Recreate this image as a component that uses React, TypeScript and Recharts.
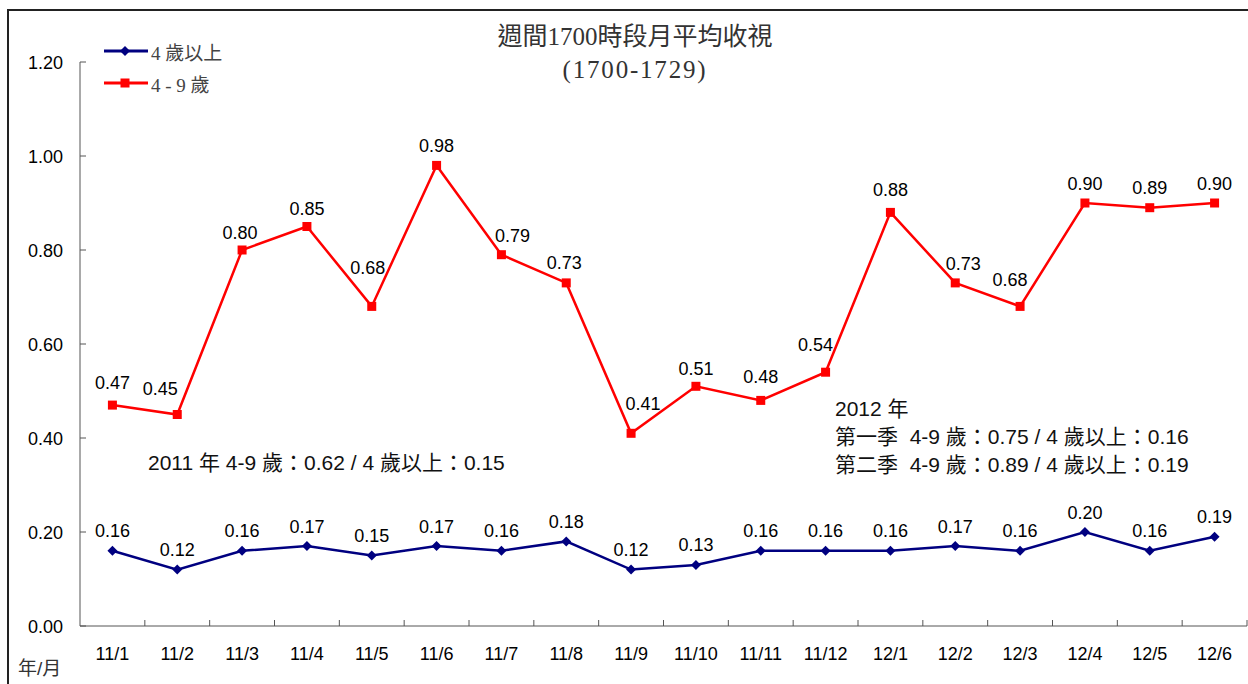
import { LineChart, Line, XAxis, YAxis, LabelList } from "recharts";

const months = ["11/1", "11/2", "11/3", "11/4", "11/5", "11/6", "11/7", "11/8", "11/9", "11/10", "11/11", "11/12", "12/1", "12/2", "12/3", "12/4", "12/5", "12/6"];
const kids = [0.47, 0.45, 0.8, 0.85, 0.68, 0.98, 0.79, 0.73, 0.41, 0.51, 0.48, 0.54, 0.88, 0.73, 0.68, 0.9, 0.89, 0.9];
const allAges = [0.16, 0.12, 0.16, 0.17, 0.15, 0.17, 0.16, 0.18, 0.12, 0.13, 0.16, 0.16, 0.16, 0.17, 0.16, 0.2, 0.16, 0.19];
const yTicks = [0, 0.2, 0.4, 0.6, 0.8, 1.0, 1.2];

// hand-placed label nudges (px), like the original chart moved them off the line
const kidsLabelDx = [0, -17, -2, 0, -4, 0, 11, -2, 12, 0, 0, -10, 0, 8, -10, 0, 0, 0];
const kidsLabelRise = [23, 26, 18, 18, 39, 20, 19, 20, 30, 18, 24, 28, 23, 19, 27, 20, 20, 20];

const W = 1248;
const H = 684;
const xAxisHeight = 30;
const margin = { top: 62, right: 1, bottom: 58 - xAxisHeight, left: 0 };
const yAxisWidth = 80;
const halfBand = (W - margin.left - margin.right - yAxisWidth) / months.length / 2;

const data = months.map((m, i) => ({ month: m, kids: kids[i], allAges: allAges[i] }));

const NAVY = "#000080";
const RED = "#ff0000";
const AXIS = "#555";
const sans = "'Liberation Sans', Arial, 'Noto Sans CJK TC', sans-serif";
const serif = "'Liberation Serif', 'Times New Roman', 'Noto Sans CJK TC', serif";

function XTick(props: any) {
  const { x, y, payload } = props;
  return (
    <g>
      <line x1={x + halfBand} x2={x + halfBand} y1={y - 6} y2={y} stroke={AXIS} strokeWidth={1} />
      <text x={x} y={y + 34} textAnchor="middle" fontSize={18} fontFamily={sans} fill="#000">
        {payload.value}
      </text>
    </g>
  );
}

function YTick(props: any) {
  const { x, y, payload } = props;
  return (
    <g>
      <line x1={x} x2={x + 6} y1={y} y2={y} stroke={AXIS} strokeWidth={1} />
      <text x={x - 17} y={y + 6.5} textAnchor="end" fontSize={18} fontFamily={sans} fill="#000">
        {payload.value.toFixed(2)}
      </text>
    </g>
  );
}

function Diamond(props: any) {
  const { cx, cy } = props;
  if (cx == null || cy == null) return null;
  return <path d={`M${cx},${cy - 5} L${cx + 5},${cy} L${cx},${cy + 5} L${cx - 5},${cy} Z`} fill={NAVY} />;
}

function Square(props: any) {
  const { cx, cy } = props;
  if (cx == null || cy == null) return null;
  return <rect x={cx - 4.5} y={cy - 4.5} width={9} height={9} fill={RED} />;
}

function makeLabel(dxs: number[] | null, rises: number[] | null) {
  return (props: any) => {
    const { x, y, value, index } = props;
    const dx = dxs ? dxs[index] : 0;
    const rise = rises ? rises[index] : 20;
    return (
      <text x={x + dx} y={y - rise + 6.5} textAnchor="middle" fontSize={18} fontFamily={sans} fill="#000">
        {Number(value).toFixed(2)}
      </text>
    );
  };
}

function LegendBox() {
  const row = (color: string, label: string, marker: "d" | "s") => (
    <div style={{ display: "flex", alignItems: "center", height: 32 }}>
      <svg width={44} height={12}>
        <line x1={0} x2={44} y1={6} y2={6} stroke={color} strokeWidth={3} />
        {marker === "d" ? (
          <path d="M21,1 L26,6 L21,11 L16,6 Z" fill={color} />
        ) : (
          <rect x={16.5} y={1.5} width={9} height={9} fill={color} />
        )}
      </svg>
      <span style={{ fontFamily: serif, fontSize: 19, color: "#444", marginLeft: 3 }}>{label}</span>
    </div>
  );
  return (
    <div style={{ position: "absolute", left: 104, top: 35 }}>
      {row(NAVY, "4 歲以上", "d")}
      {row(RED, "4 - 9 歲", "s")}
    </div>
  );
}

const noteStyle = { position: "absolute" as const, fontFamily: sans, fontSize: 21, color: "#111", whiteSpace: "pre" as const };

export default function App() {
  return (
    <div style={{ position: "fixed", left: 0, top: 0, width: W, height: H, overflow: "hidden", background: "#fff" }}>
      <div style={{ position: "absolute", left: 7, top: 9, width: 1300, height: 800, border: "2px solid #222" }} />
      <div style={{ position: "absolute", left: 0, top: 0 }}>
        <LineChart width={W} height={H} data={data} margin={margin}>
          <XAxis dataKey="month" height={xAxisHeight} tick={<XTick />} tickLine={false} tickSize={0} tickMargin={0} stroke={AXIS} interval={0} padding={{ left: halfBand, right: halfBand }} />
          <YAxis domain={[0, 1.2]} ticks={yTicks} width={yAxisWidth} tick={<YTick />} tickLine={false} tickSize={0} tickMargin={0} stroke={AXIS} />
          <Line dataKey="allAges" name="4歲以上" stroke={NAVY} strokeWidth={2.5} dot={<Diamond />} activeDot={false} isAnimationActive={false}>
            <LabelList dataKey="allAges" content={makeLabel(null, null)} />
          </Line>
          <Line dataKey="kids" name="4-9歲" stroke={RED} strokeWidth={2.5} dot={<Square />} activeDot={false} isAnimationActive={false}>
            <LabelList dataKey="kids" content={makeLabel(kidsLabelDx, kidsLabelRise)} />
          </Line>
        </LineChart>
      </div>
      <LegendBox />
      <div style={{ position: "absolute", left: 0, width: 1270, top: 20, textAlign: "center", fontFamily: serif, fontSize: 25, color: "#333", lineHeight: "33px" }}>
        週間1700時段月平均收視
        <br />
        <span style={{ letterSpacing: 1.8 }}>(1700-1729)</span>
      </div>
      <div style={{ ...noteStyle, left: 148, top: 446 }}>2011 年 4-9 歲：0.62 / 4 歲以上：0.15</div>
      <div style={{ ...noteStyle, left: 835, top: 395, lineHeight: "28px" }}>
        {"2012 年\n第一季  4-9 歲：0.75 / 4 歲以上：0.16\n第二季  4-9 歲：0.89 / 4 歲以上：0.19"}
      </div>
      <div style={{ position: "absolute", left: 18, top: 653, fontFamily: sans, fontSize: 19, color: "#333" }}>年/月</div>
    </div>
  );
}
